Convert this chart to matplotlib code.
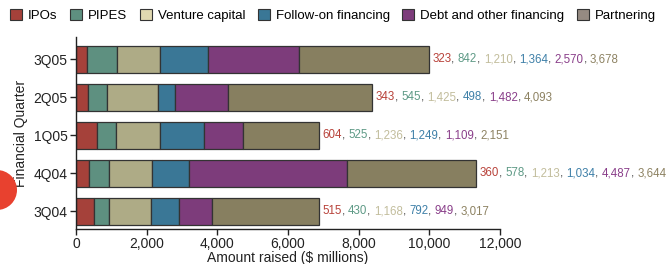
import numpy as np
import matplotlib
matplotlib.use("Agg")
import matplotlib.pyplot as plt
from matplotlib.patches import Patch, Circle

plt.rcParams['font.family'] = ['Liberation Sans', 'DejaVu Sans']

# ============================================================
# DADOS
# ============================================================

quarters = ['3Q04', '4Q04', '1Q05', '2Q05', '3Q05']

series_names = [
    'IPOs',
    'PIPES',
    'Venture capital',
    'Follow-on financing',
    'Debt and other financing',
    'Partnering'
]

ipos = [515, 360, 604, 343, 323]
pipes = [430, 578, 525, 545, 842]
venture = [1168, 1213, 1236, 1425, 1210]
follow_on = [792, 1034, 1249, 498, 1364]
debt = [949, 4487, 1109, 1482, 2570]
partnering = [3017, 3644, 2151, 4093, 3678]

bar_colors = ['#a5413a', '#5e9080', '#aeab86', '#3a7796', '#7d3c7b', '#877f60']
text_colors = ['#b8423a', '#5e9a86', '#c2bd9c', '#3f80a8', '#8a3f8a', '#8d8262']
legend_colors = ['#a5413a', '#5e9080', '#e0d8b0', '#3a7796', '#7d3c7b', '#958a82']

# ============================================================
# FIGURA
# ============================================================

fig = plt.figure(figsize=(6.7, 2.64), dpi=100)
ax = fig.add_axes([0.1134, 0.1326, 0.6328, 0.7273])

all_series = [ipos, pipes, venture, follow_on, debt, partnering]
y_pos = np.arange(len(quarters))
left = np.zeros(len(quarters))

for values, color in zip(all_series, bar_colors):
    ax.barh(
        y_pos,
        values,
        left=left,
        height=0.71,
        color=color,
        edgecolor='#333333',
        linewidth=0.9
    )
    left = left + np.array(values)

# ------------------------------------------------------------
# rótulos coloridos no fim das barras
# ------------------------------------------------------------

label_size = 8.3

for i in range(len(quarters)):
    vals = [s[i] for s in all_series]
    prev = None
    for k, v in enumerate(vals):
        if prev is None:
            prev = ax.annotate(
                f'{v:,}',
                xy=(left[i], y_pos[i]),
                xytext=(2.5, 0),
                textcoords='offset points',
                va='center',
                ha='left',
                fontsize=label_size,
                color=text_colors[k]
            )
        else:
            prev = ax.annotate(
                f'{v:,}',
                xy=(1, 0),
                xycoords=prev,
                va='bottom',
                ha='left',
                fontsize=label_size,
                color=text_colors[k]
            )
        if k < len(vals) - 1:
            prev = ax.annotate(
                ', ',
                xy=(1, 0),
                xycoords=prev,
                va='bottom',
                ha='left',
                fontsize=label_size,
                color='#444444'
            )

# ------------------------------------------------------------
# eixos
# ------------------------------------------------------------

ax.set_xlim(0, 12000)
ax.set_ylim(-0.47, 4.58)
ax.set_yticks(y_pos)
ax.set_yticklabels(quarters, fontsize=10, color='#222222')
ax.set_xticks(np.arange(0, 12001, 2000))
ax.set_xticklabels([f'{t:,}' for t in range(0, 12001, 2000)], fontsize=10, color='#222222')
ax.set_xlabel('Amount raised ($ millions)', fontsize=10, color='#222222', labelpad=0)
ax.set_ylabel('Financial Quarter', fontsize=10, color='#222222', labelpad=4)

ax.spines['top'].set_visible(False)
ax.spines['right'].set_visible(False)
for sp in ['left', 'bottom']:
    ax.spines[sp].set_color('#222222')
    ax.spines[sp].set_linewidth(1)
ax.tick_params(axis='both', color='#222222', length=4, width=1, pad=2)

# ------------------------------------------------------------
# legenda
# ------------------------------------------------------------

handles = [
    Patch(facecolor=c, edgecolor='#333333', linewidth=0.8, label=n)
    for c, n in zip(legend_colors, series_names)
]
fig.legend(
    handles=handles,
    loc='center',
    bbox_to_anchor=(0.497, 0.94),
    ncol=6,
    frameon=False,
    fontsize=9.5,
    handlelength=0.9,
    handleheight=0.9,
    handletextpad=0.45,
    columnspacing=0.95,
    borderaxespad=0
)

# círculo vermelho na borda esquerda
fig.patches.append(
    Circle((-0.03, 0.74), 0.2, transform=fig.dpi_scale_trans,
           facecolor='#e8412f', edgecolor='none')
)

fig.savefig('out.png', dpi=100)
